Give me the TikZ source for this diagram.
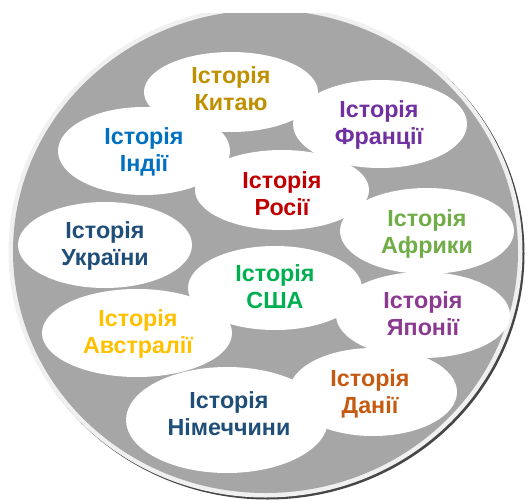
\documentclass[tikz,border=0pt]{standalone}
\usepackage{fontspec}
\setmainfont{Liberation Sans}
\usetikzlibrary{shapes.geometric}
\definecolor{diskgray}{RGB}{166,166,166}
\definecolor{ringgray}{RGB}{240,240,240}
\definecolor{shadowgray}{RGB}{70,70,70}
\definecolor{cChina}{RGB}{191,144,0}
\definecolor{cFrance}{RGB}{112,48,160}
\definecolor{cIndia}{RGB}{0,112,192}
\definecolor{cRussia}{RGB}{192,0,0}
\definecolor{cAfrica}{RGB}{112,173,71}
\definecolor{cUkraine}{RGB}{31,78,121}
\definecolor{cUSA}{RGB}{0,176,80}
\definecolor{cJapan}{RGB}{140,58,145}
\definecolor{cAustralia}{RGB}{255,192,0}
\definecolor{cDenmark}{RGB}{197,90,17}
\definecolor{cGermany}{RGB}{31,78,121}
\tikzset{
  blob/.style 2 args={ellipse, fill=white, inner sep=0pt,
    minimum width=#1pt, minimum height=#2pt},
  lbl/.style={font=\bfseries\fontsize{23.3}{27}\selectfont, align=center, inner sep=0pt}
}
\begin{document}
\begin{tikzpicture}[x=1pt,y=-1pt]
\useasboundingbox (0,0) rectangle (528,501);
\begin{scope}
\clip (0,13) rectangle (528,501);
\fill[shadowgray] (267.5,253.5) ellipse [x radius=257, y radius=246];
\fill[ringgray] (265.5,251.5) ellipse [x radius=257, y radius=246];
\fill[diskgray] (265.5,251.5) ellipse [x radius=252.5, y radius=241.5];
\end{scope}
% ellipses
\node[blob={174}{80}] (eChina) at (231,92) {};
\node[blob={174}{88}] (eFrance) at (380,124) {};
\node[blob={172}{88}] (eIndia) at (144,151) {};
\node[blob={174}{80}] (eRussia) at (282,190) {};
\node[blob={174}{86}] (eAfrica) at (427,231) {};
\node[blob={174}{86}] (eUkraine) at (105,245) {};
\node[blob={174}{84}] (eUSA) at (275,288) {};
\node[blob={174}{86}] (eJapan) at (423,315) {};
\node[blob={190}{88}] (eAustralia) at (137,333) {};
\node[blob={168}{88}] (eDenmark) at (373,392) {};
\node[blob={202}{106}] (eGermany) at (227,420) {};
% labels
\node[lbl, text=cChina] (tChina) at (231,88.5) {Історія\\Китаю};
\node[lbl, text=cFrance] (tFrance) at (379,125) {Історія\\Франції};
\node[lbl, text=cIndia] (tIndia) at (144,152) {Історія\\Індії};
\node[lbl, text=cRussia] (tRussia) at (282,193.5) {Історія\\Росії};
\node[lbl, text=cAfrica] (tAfrica) at (427,234) {Історія\\Африки};
\node[lbl, text=cUkraine] (tUkraine) at (105,246) {Історія\\України};
\node[lbl, text=cUSA] (tUSA) at (275,286.5) {Історія\\США};
\node[lbl, text=cJapan] (tJapan) at (423,314) {Історія\\Японії};
\node[lbl, text=cAustralia] (tAustralia) at (138,333.5) {Історія\\Австралії};
\node[lbl, text=cDenmark] (tDenmark) at (370,393.5) {Історія\\Данії};
\node[lbl, text=cGermany] (tGermany) at (229,413.5) {Історія\\Німеччини};
\end{tikzpicture}
\end{document}
